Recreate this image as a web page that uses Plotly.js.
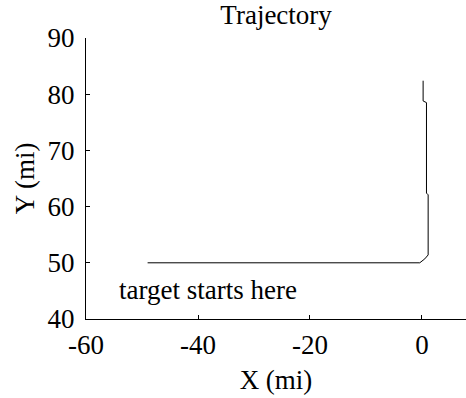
<!DOCTYPE html>
<html>
<head>
<meta charset="utf-8">
<script src="https://cdn.plot.ly/plotly-3.0.1.min.js"></script>
<style>html,body{margin:0;padding:0;background:#fff;}#chart{width:466px;height:398px;}</style>
</head>
<body>
<div id="chart"></div>
<script>
var trajX = [-49, -0.4, 0.5, 1.1, 1.1, 0.8, 0.8, 0.2, 0.2];
var trajY = [50, 50, 50.7, 51.4, 62.1, 62.4, 78.5, 78.8, 82.4];
var xTicks = [-60, -40, -20, 0];
var yTicks = [40, 50, 60, 70, 80, 90];
var noteText = "target starts here";
var noteX = -54.4;
var noteY = 45.2;

var F = "Liberation Serif, Times New Roman, serif";
var FS = 27;
var trace = {
  x: trajX, y: trajY, type: "scatter", mode: "lines",
  line: {color: "#000", width: 1}, hoverinfo: "none"
};
var layout = {
  width: 466, height: 398,
  margin: {l: 86, r: 0, t: 38, b: 79},
  paper_bgcolor: "#fff", plot_bgcolor: "#fff",
  showlegend: false,
  font: {family: F, size: FS, color: "#000"},
  title: {text: "Trajectory", font: {family: F, size: FS, color: "#000"}, x: 0.5925, xanchor: "center", y: 0.986, yanchor: "top"},
  xaxis: {
    range: [-60, 7.86], tickvals: xTicks, ticktext: xTicks.map(String),
    ticks: "inside", ticklen: 4, tickcolor: "#000", tickwidth: 1,
    showline: true, linecolor: "#000", linewidth: 1, mirror: false,
    showgrid: false, zeroline: false, ticklabelstandoff: 2,
    tickfont: {family: F, size: FS, color: "#000"},
    title: {text: "X (mi)", font: {family: F, size: FS, color: "#000"}, standoff: 10}
  },
  yaxis: {
    range: [40, 90], tickvals: yTicks, ticktext: yTicks.map(String),
    ticks: "inside", ticklen: 4, tickcolor: "#000", tickwidth: 1,
    showline: true, linecolor: "#000", linewidth: 1, mirror: false,
    showgrid: false, zeroline: false, ticklabelstandoff: 5,
    tickfont: {family: F, size: FS, color: "#000"},
    title: {text: "Y (mi)", font: {family: F, size: FS, color: "#000"}, standoff: 5}
  },
  annotations: [{
    x: noteX, y: noteY, xref: "x", yref: "y", text: noteText,
    showarrow: false, xanchor: "left", yanchor: "middle",
    font: {family: F, size: FS, color: "#000"}
  }]
};
Plotly.newPlot("chart", [trace], layout, {displayModeBar: false, staticPlot: true});
</script>
</body>
</html>
